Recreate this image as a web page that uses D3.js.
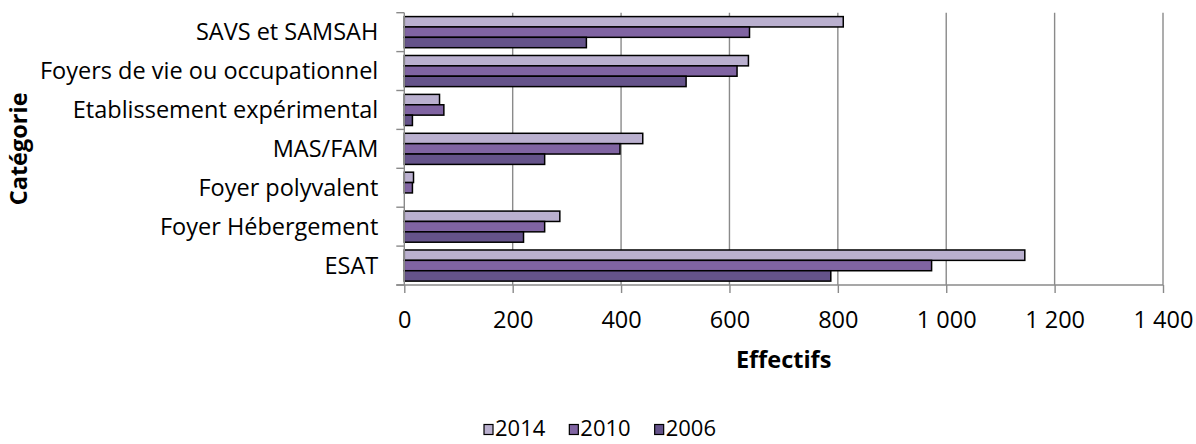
<!DOCTYPE html>
<html><head><meta charset="utf-8">
<script src="https://cdn.jsdelivr.net/npm/d3@7"></script>
<style>
html,body{margin:0;padding:0;background:#fff;}
svg text{font-family:"Open Sans",sans-serif;fill:#000;}
</style></head>
<body><svg id="c" width="1196" height="444"></svg>
<script>
const categories = ["SAVS et SAMSAH","Foyers de vie ou occupationnel","Etablissement expérimental","MAS/FAM","Foyer polyvalent","Foyer Hébergement","ESAT"];
const seriesNames = ["2014","2010","2006"];
const values2014 = [810, 635, 65, 440, 17, 287, 1145];
const values2010 = [637, 614, 73, 398, 15, 259, 973];
const values2006 = [336, 520, 15, 259, 0, 220, 787];
const xTicks = [0,200,400,600,800,1000,1200,1400];
const colors = ["#bab0cf","#8064a2","#65538a"];
const xTitle = "Effectifs", yTitle = "Catégorie";

const seriesVals = [values2014, values2010, values2006];
const svg = d3.select("#c");
const L = 404.3, R = 1163, T = 12.7, B = 285;
const fs = 23.5;

const x = d3.scaleLinear().domain([0,1400]).range([L,R]);
const y0 = d3.scaleBand().domain(categories).range([T,B]).paddingInner(0.2).paddingOuter(0.1);
const y1 = d3.scaleBand().domain(seriesNames).range([0,y0.bandwidth()]);
const step = y0.step();

const fmt = d3.formatLocale({decimal:",",thousands:"\u00a0",grouping:[3],currency:["","€"]}).format(",d");

// gridlines
svg.append("g").selectAll("line").data(xTicks.filter(d=>d>0)).join("line")
  .attr("x1",d=>x(d)).attr("x2",d=>x(d)).attr("y1",T).attr("y2",B)
  .attr("stroke","#8a8a8a").attr("stroke-width",1.4);

// bars
const g = svg.append("g");
categories.forEach((c,i)=>{
  seriesNames.forEach((s,j)=>{
    const v = seriesVals[j][i];
    if (v <= 0) return;
    g.append("rect")
      .attr("x",x(0)).attr("y",y0(c)+y1(s))
      .attr("width",x(v)-x(0)).attr("height",y1.bandwidth())
      .attr("fill",colors[j]).attr("stroke","#000").attr("stroke-width",1.5);
  });
});

// x axis
const xa = svg.append("g").attr("transform",`translate(0,${B})`)
  .call(d3.axisBottom(x).tickValues(xTicks).tickFormat(fmt).tickSize(8).tickSizeOuter(0));
xa.select(".domain").attr("stroke","#8a8a8a").attr("stroke-width",1.4).attr("d",`M${L-8},0H${R}`);
xa.selectAll(".tick line").attr("stroke","#8a8a8a").attr("stroke-width",1.4);
xa.selectAll(".tick text").attr("font-size",fs).attr("font-family","Open Sans").attr("dy",0).attr("y",43);

// y axis
const ya = svg.append("g").attr("transform",`translate(${L},0)`)
  .call(d3.axisLeft(y0).tickSize(0).tickPadding(26));
ya.select(".domain").attr("stroke","#8a8a8a").attr("stroke-width",1.4).attr("d",`M0,${T}V${B}`);
ya.selectAll(".tick text").attr("font-size",fs).attr("font-family","Open Sans").attr("dy","0.35em")
  .attr("transform",`translate(0,${-step*0.1+step/2-y0.bandwidth()/2})`);
svg.append("g").selectAll("line").data(d3.range(categories.length+1)).join("line")
  .attr("x1",L-8).attr("x2",L).attr("y1",d=>T+d*step).attr("y2",d=>T+d*step)
  .attr("stroke","#8a8a8a").attr("stroke-width",1.4);

// titles
svg.append("text").attr("x",(L+R)/2).attr("y",368).attr("text-anchor","middle")
  .attr("font-size",fs).attr("font-weight","bold").text(xTitle);
svg.append("text").attr("transform",`translate(27,${(T+B)/2}) rotate(-90)`).attr("text-anchor","middle")
  .attr("font-size",fs).attr("font-weight","bold").text(yTitle);

// legend
const lg = svg.append("g");
let cx = 0;
seriesNames.forEach((s,j)=>{
  const it = lg.append("g");
  it.append("rect").attr("x",0).attr("y",-11.5).attr("width",9).attr("height",10)
    .attr("fill",colors[j]).attr("stroke","#000").attr("stroke-width",1.2);
  const t = it.append("text").attr("x",11).attr("y",0).attr("font-size",22).text(s);
  const w = 11 + t.node().getComputedTextLength();
  it.attr("transform",`translate(${cx},0)`);
  cx += w + 24;
});
const total = cx - 24;
lg.attr("transform",`translate(${600 - total/2},436)`);
</script></body></html>
